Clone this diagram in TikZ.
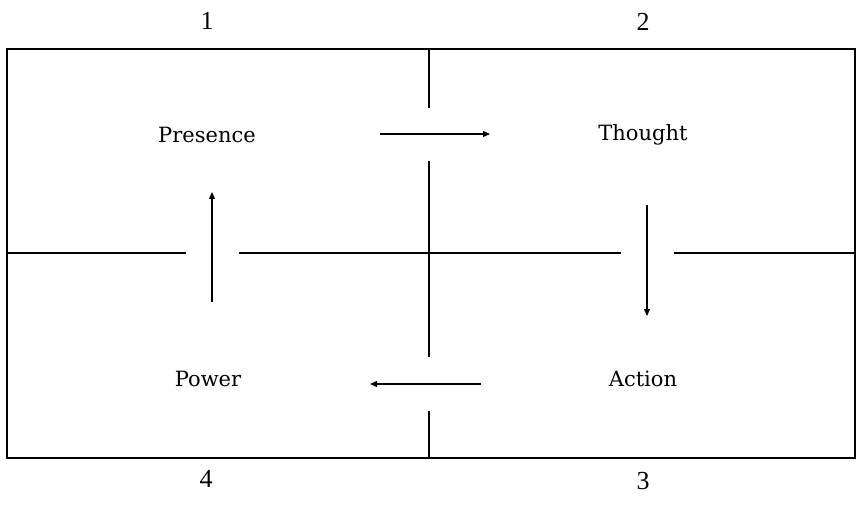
\documentclass[tikz,border=0pt]{standalone}
\usepackage{fontspec}
\setmainfont{DejaVu Serif}
\newfontfamily\numfont{Liberation Serif}
\usetikzlibrary{arrows.meta}
\begin{document}
\begin{tikzpicture}[x=1pt,y=-1pt,
  frame/.style={line width=1.2pt,black},
  flow/.style={line width=1.2pt,-{Triangle[length=7pt,width=6pt]}},
  lab/.style={font=\fontsize{21}{24}\selectfont,inner sep=0pt},
  num/.style={font=\numfont\fontsize{26}{29}\selectfont,inner sep=0pt}]
\useasboundingbox (0,0) rectangle (857,513);
\fill[white] (0,0) rectangle (857,513);
% frame
\draw[frame] (7,49) rectangle (855,458);
\draw[frame] (429,49) -- (429,108);
\draw[frame] (429,161) -- (429,357);
\draw[frame] (429,411) -- (429,458);
\draw[frame] (7,253) -- (186,253);
\draw[frame] (239,253) -- (621,253);
\draw[frame] (674,253) -- (855,253);
% labels
\node[lab] (presence) at (207,135) {Presence};
\node[lab] (thought) at (643,135) {Thought};
\node[lab] (action) at (643,379) {Action};
\node[lab] (power) at (208,379) {Power};
\node[num] (n1) at (207,21) {1};
\node[num] (n2) at (643,22) {2};
\node[num] (n3) at (643,481) {3};
\node[num] (n4) at (206,479) {4};
% arrow end points
\coordinate (a1s) at (380,134); \coordinate (a1e) at (490,134);
\coordinate (a2s) at (647,205); \coordinate (a2e) at (647,316);
\coordinate (a3s) at (481,384); \coordinate (a3e) at (370,384);
\coordinate (a4s) at (212,302); \coordinate (a4e) at (212,192);
\draw[flow] (a1s) -- (a1e);
\draw[flow] (a2s) -- (a2e);
\draw[flow] (a3s) -- (a3e);
\draw[flow] (a4s) -- (a4e);
\end{tikzpicture}
\end{document}
